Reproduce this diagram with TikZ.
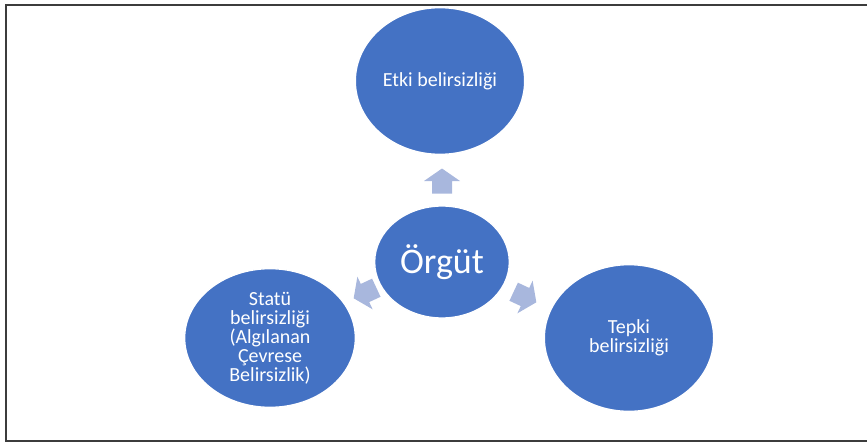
\documentclass[tikz,border=0pt]{standalone}
\usepackage{fontspec}
\setmainfont{Carlito}
\usetikzlibrary{shapes.geometric}
\definecolor{nodeblue}{HTML}{4472C4}
\definecolor{arrowblue}{HTML}{A8B7DD}
\definecolor{framegray}{HTML}{3C3C3C}
\tikzset{
  bubble/.style={ellipse, fill=nodeblue, draw=white, line width=1pt, text=white,
    minimum width=127pt, minimum height=110pt, inner sep=0pt, align=center,
    font=\fontsize{15}{14.3}\selectfont},
  hub/.style={bubble, minimum width=101pt, minimum height=84pt,
    font=\fontsize{27}{30}\selectfont},
  frameline/.style={draw=framegray, line width=1.4pt},
  % block arrow, drawn along +x, centred on the origin
  blockarrow/.pic={
    \fill[arrowblue] (-12.5,-10) -- (0,-10) -- (0,-18) -- (12.5,0)
      -- (0,18) -- (0,10) -- (-12.5,10) -- cycle;
  }
}
\begin{document}
\begin{tikzpicture}[x=0.75pt,y=-0.75pt]
  \useasboundingbox (0,0) rectangle (867,443);
  % frame around the figure
  \coordinate (fbl) at (6,441);
  \coordinate (ftl) at (6,5);
  \coordinate (ftr) at (870,5);
  \coordinate (fbr) at (870,441);
  \draw[frameline] (ftr) -- (ftl) -- (fbl) -- (fbr);

  % outer bubbles and the hub
  \node[hub] (org) at (442,262) {Örgüt};
  \node[bubble] (etki) at (440,81) {Etki belirsizliği};
  \node[bubble, minimum width=128pt, minimum height=104pt] (statu) at (270,338)
    {Statü\\belirsizliği\\(Algılanan\\Çevrese\\Belirsizlik)};
  \node[bubble] (tepki) at (629,338) {Tepki\\belirsizliği};

  % arrows pointing from the hub towards each bubble
  \pic[rotate=90] at (442,181) {blockarrow};
  \pic[rotate=205] at (365,293) {blockarrow};
  \pic[rotate=-25] at (525,297) {blockarrow};
\end{tikzpicture}
\end{document}
